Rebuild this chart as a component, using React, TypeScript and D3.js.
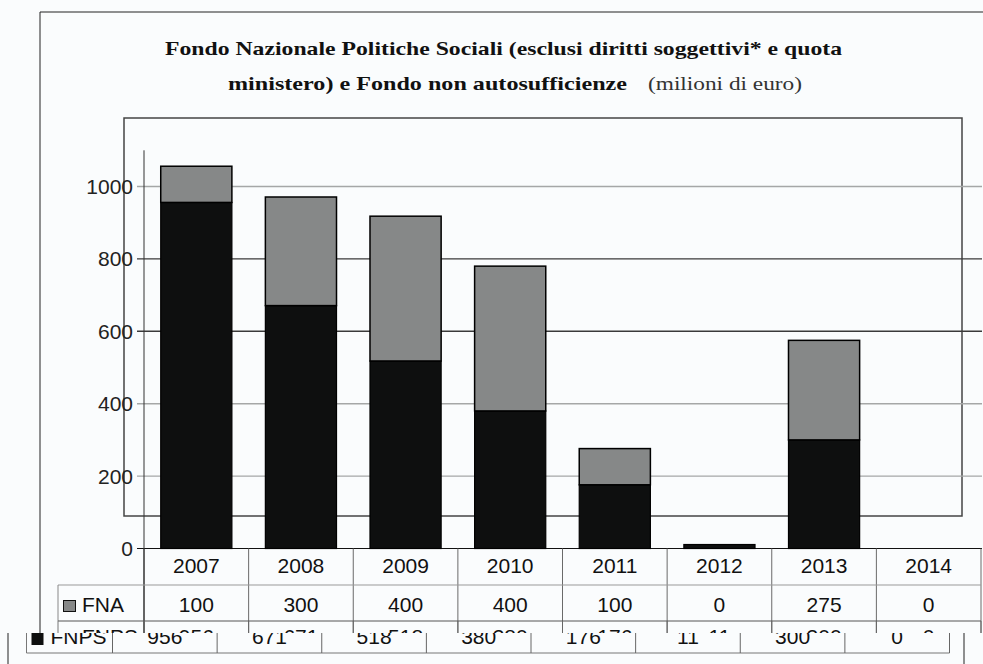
import * as d3 from "d3";

const YEARS = ["2007", "2008", "2009", "2010", "2011", "2012", "2013", "2014"];
const FNA = [100, 300, 400, 400, 100, 0, 275, 0];
const FNPS = [956, 671, 518, 380, 176, 11, 300, 0];
const Y_TICKS = [0, 200, 400, 600, 800, 1000];
const DARK_GRID = [600, 800];

const W = 983;
const H = 664;
const PLOT = { left: 144, right: 981, top: 150.3, bottom: 548.5 };
const CUT = 633; // where the shifted strip starts
const SHIFT = -31.5;

const FNA_COLOR = "#868888";
const FNPS_COLOR = "#0e0f0f";
const SANS = "'Liberation Sans', Arial, sans-serif";
const SERIF = "'Liberation Serif', 'Times New Roman', serif";

const x = d3
  .scaleBand<string>()
  .domain(YEARS)
  .range([PLOT.left, PLOT.right])
  .paddingInner(0.32)
  .paddingOuter(0.16);
const col = d3.scaleBand<string>().domain(YEARS).range([PLOT.left, PLOT.right]);
const y = d3.scaleLinear().domain([0, 1100]).range([PLOT.bottom, PLOT.top]);

const stacked = YEARS.map((yr, i) => ({
  year: yr,
  fnps: FNPS[i],
  fna: FNA[i],
}));

// FNPS row of the table, drawn twice (once in place, once shifted by the glitch strip)
function FnpsRow({ dx }: { dx: number }) {
  const edges = [...YEARS.map((d) => col(d)!), PLOT.right];
  return (
    <g transform={`translate(${dx},0)`}>
      <line x1={58} x2={58} y1={621} y2={653} stroke="#777" />
      <line x1={58} x2={PLOT.right} y1={653} y2={653} stroke="#777" />
      {edges.map((e, i) => (
        <line key={i} x1={e} x2={e} y1={621} y2={653} stroke="#666" />
      ))}
      <rect x={63} y={633} width={12} height={12} fill={FNPS_COLOR} />
      <text x={82} y={644} fontFamily={SANS} fontSize={21} fill="#111">
        FNPS
      </text>
      {YEARS.map((d, i) => (
        <text
          key={d}
          x={col(d)! + col.bandwidth() / 2}
          y={644}
          textAnchor="middle"
          fontFamily={SANS}
          fontSize={21}
          fill="#111"
        >
          {FNPS[i]}
        </text>
      ))}
    </g>
  );
}

export default function App() {
  const gridColor = (t: number) =>
    DARK_GRID.includes(t) ? "#3a3a3a" : "#a5a7a7";

  return (
    <div style={{ position: "absolute", left: 0, top: 0 }}>
      <svg width={W} height={H} style={{ display: "block", background: "#fafcfd" }}>
        <defs>
          <clipPath id="above">
            <rect x={0} y={0} width={W} height={CUT} />
          </clipPath>
          <clipPath id="below">
            <rect x={0} y={CUT} width={W} height={H - CUT} />
          </clipPath>
        </defs>

        {/* outer frame */}
        <line x1={40} x2={W} y1={12} y2={12} stroke="#222" />
        <line x1={40} x2={40} y1={12} y2={CUT} stroke="#222" />

        {/* title */}
        <text
          x={165}
          y={55}
          fontFamily={SERIF}
          fontWeight="bold"
          fontSize={19}
          fill="#111"
          textLength={677}
          lengthAdjust="spacingAndGlyphs"
        >
          Fondo Nazionale Politiche Sociali (esclusi diritti soggettivi* e quota
        </text>
        <text
          x={228}
          y={90}
          fontFamily={SERIF}
          fontWeight="bold"
          fontSize={19}
          fill="#111"
          textLength={399}
          lengthAdjust="spacingAndGlyphs"
        >
          ministero) e Fondo non autosufficienze
        </text>
        <text
          x={648}
          y={90}
          fontFamily={SERIF}
          fontSize={19}
          fill="#333"
          textLength={154}
          lengthAdjust="spacingAndGlyphs"
        >
          (milioni di euro)
        </text>

        {/* inner plot box */}
        <rect x={124} y={118} width={838} height={398} fill="none" stroke="#444" strokeWidth={1.5} />

        {/* gridlines + y ticks */}
        {Y_TICKS.map((t) => (
          <g key={t}>
            <line
              x1={137}
              x2={982}
              y1={y(t)}
              y2={y(t)}
              stroke={t === 0 ? "#111" : gridColor(t)}
              strokeWidth={t === 0 ? 1.2 : 1.4}
            />
            <text
              x={133}
              y={y(t)}
              dy="0.36em"
              textAnchor="end"
              fontFamily={SANS}
              fontSize={21}
              fill="#222"
            >
              {t}
            </text>
          </g>
        ))}
        <line x1={PLOT.left} x2={PLOT.left} y1={PLOT.top} y2={CUT} stroke="#333" />

        {/* stacked bars */}
        {stacked.map((d) => (
          <g key={d.year}>
            {d.fnps > 0 && (
              <rect
                x={x(d.year)}
                y={y(d.fnps)}
                width={x.bandwidth()}
                height={y(0) - y(d.fnps)}
                fill={FNPS_COLOR}
                stroke="#000"
                strokeWidth={1.2}
              />
            )}
            {d.fna > 0 && (
              <rect
                x={x(d.year)}
                y={y(d.fnps + d.fna)}
                width={x.bandwidth()}
                height={y(d.fnps) - y(d.fnps + d.fna)}
                fill={FNA_COLOR}
                stroke="#000"
                strokeWidth={1.5}
              />
            )}
          </g>
        ))}

        {/* data table */}
        <g clipPath="url(#above)">
          {[...YEARS.map((d) => col(d)!), PLOT.right].map((e, i) => (
            <line key={i} x1={e} x2={e} y1={PLOT.bottom} y2={CUT} stroke={i === 0 ? "#333" : "#6a6a6a"} />
          ))}
          <line x1={58} x2={PLOT.right} y1={585} y2={585} stroke="#999" />
          <line x1={58} x2={58} y1={585} y2={621} stroke="#888" />
          <line x1={58} x2={PLOT.right} y1={621} y2={621} stroke="#555" />
          {YEARS.map((d, i) => (
            <g key={d}>
              <text
                x={col(d)! + col.bandwidth() / 2}
                y={573}
                textAnchor="middle"
                fontFamily={SANS}
                fontSize={21}
                fill="#111"
              >
                {d}
              </text>
              <text
                x={col(d)! + col.bandwidth() / 2}
                y={612}
                textAnchor="middle"
                fontFamily={SANS}
                fontSize={21}
                fill="#111"
              >
                {FNA[i]}
              </text>
            </g>
          ))}
          <rect x={63.5} y={600.5} width={12} height={11} fill={FNA_COLOR} stroke="#111" />
          <text x={82} y={612} fontFamily={SANS} fontSize={21} fill="#111">
            FNA
          </text>
          <FnpsRow dx={0} />
        </g>

        {/* shifted strip at the bottom */}
        <rect x={0} y={CUT} width={W} height={H - CUT} fill="#fafcfd" />
        <g clipPath="url(#below)">
          <FnpsRow dx={SHIFT} />
        </g>
        <line x1={8} x2={8} y1={CUT} y2={H} stroke="#222" />
        <line x1={964} x2={964} y1={CUT} y2={H} stroke="#222" />
      </svg>
    </div>
  );
}
